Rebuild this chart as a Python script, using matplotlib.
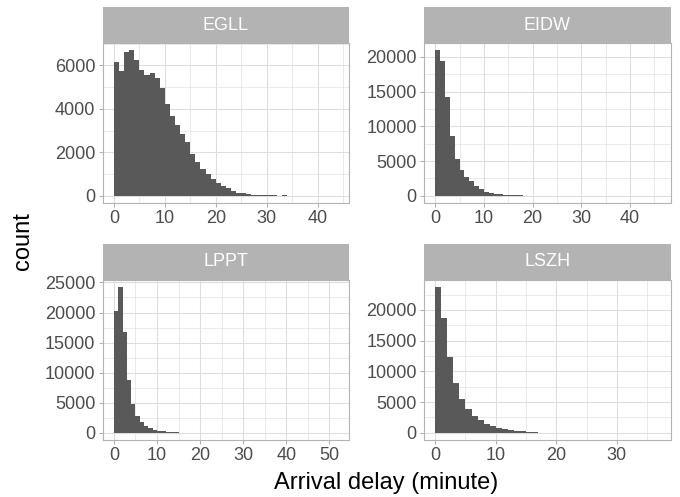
import numpy as np
import matplotlib
matplotlib.use("Agg")
import matplotlib.pyplot as plt
from matplotlib.ticker import MultipleLocator

plt.rcParams['font.family'] = ['Liberation Sans', 'DejaVu Sans']

# histogram counts per 1-minute bin, starting at 0
airports = ["EGLL", "EIDW", "LPPT", "LSZH"]
egll_counts = [6140, 5760, 6600, 6700, 6260, 5790, 5570, 5650, 5420, 4980,
               4230, 3650, 3240, 2855, 2475, 1940, 1560, 1220, 980, 780,
               565, 458, 336, 229, 137, 107, 95, 50, 45, 40,
               20, 15, 3, 12, 3, 2, 2, 1, 1, 1,
               0, 1, 0, 1]
eidw_counts = [20950, 19470, 14180, 8590, 5350, 3675, 2720, 2100, 1385, 905,
               575, 380, 285, 240, 145, 120, 50, 40, 30, 25,
               10, 8, 6, 5, 4, 3, 3, 2, 2, 2,
               1, 1, 1, 1, 1, 1, 0, 1, 0, 1,
               0, 0, 1, 0, 0, 1]
lppt_counts = [20185, 24200, 16720, 8800, 4785, 2750, 1760, 1100, 770, 495,
               330, 220, 110, 80, 40, 30, 20, 15, 10, 8,
               6, 5, 4, 3, 3, 2, 2, 2, 1, 1,
               1, 1, 1, 1, 1, 0, 1, 0, 1, 0,
               1, 0, 0, 1, 0, 0, 1, 0, 0, 0,
               0, 1]
lszh_counts = [23700, 18740, 12260, 8100, 5510, 3830, 2700, 2000, 1350, 1080,
               810, 590, 380, 320, 216, 110, 60, 30, 20, 15,
               10, 8, 6, 5, 4, 3, 2, 2, 1, 1,
               1, 0, 1, 0, 1, 0, 1]
counts = [egll_counts, eidw_counts, lppt_counts, lszh_counts]
x_steps = [10, 10, 10, 10]
y_steps = [2000, 5000, 5000, 5000]

W, H = 680, 497
fig = plt.figure(figsize=(W / 100, H / 100), dpi=100)

# panel boxes in pixels: left, top (of panel, below strip)
pan_w, pan_h, strip_h = 246.5, 160, 36
pos = [(102.7, 43), (424, 43), (102.7, 280), (424, 280)]

bar_col = "#595959"
grid_col = "#DEDEDE"
border_col = "#B3B3B3"
text_col = "#4D4D4D"

for name, c, (px, py), xs, ys in zip(airports, counts, pos, x_steps, y_steps):
    c = np.array(c)
    edges = np.arange(len(c) + 1)
    ax = fig.add_axes([px / W, 1 - (py + pan_h) / H, pan_w / W, pan_h / H])
    ax.bar(edges[:-1], c, width=1, align="edge", color=bar_col, linewidth=0, zorder=3)
    n = edges[-1]
    ax.set_xlim(-0.05 * n, 1.05 * n)
    ax.set_ylim(-0.05 * c.max(), 1.05 * c.max())
    ax.xaxis.set_major_locator(MultipleLocator(xs))
    ax.xaxis.set_minor_locator(MultipleLocator(xs / 2))
    ax.yaxis.set_major_locator(MultipleLocator(ys))
    ax.yaxis.set_minor_locator(MultipleLocator(ys / 2))
    ax.grid(which="major", color=grid_col, linewidth=0.8, zorder=0)
    ax.grid(which="minor", color=grid_col, linewidth=0.45, zorder=0)
    ax.set_axisbelow(True)
    for s in ax.spines.values():
        s.set_color(border_col)
        s.set_linewidth(0.8)
    ax.tick_params(which="major", length=3.2, width=0.8, color=border_col,
                   labelcolor=text_col, labelsize=13, pad=2)
    ax.tick_params(which="minor", length=0)

    sax = fig.add_axes([px / W, 1 - py / H, pan_w / W, strip_h / H])
    sax.set_facecolor(border_col)
    for s in sax.spines.values():
        s.set_visible(False)
    sax.set_xticks([])
    sax.set_yticks([])
    sax.text(0.5, 0.5, name, color="white", fontsize=13, ha="center", va="center",
             transform=sax.transAxes)

fig.text(23 / W, 1 - 241 / H, "count", rotation=90, fontsize=17, ha="center", va="center")
fig.text(386 / W, 1 - 483 / H, "Arrival delay (minute)", fontsize=17, ha="center", va="center")

fig.savefig("out.png", dpi=100)
